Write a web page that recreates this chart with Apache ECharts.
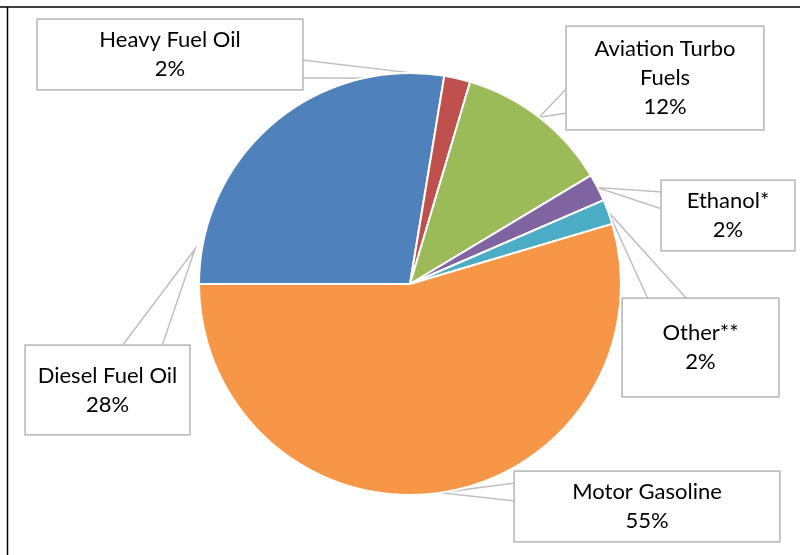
<!DOCTYPE html>
<html>
<head>
<meta charset="utf-8">
<script src="https://cdn.jsdelivr.net/npm/echarts@6/dist/echarts.min.js"></script>
<style>
html, body { margin: 0; padding: 0; background: #fff; }
#main { width: 800px; height: 555px; }
</style>
</head>
<body>
<div id="main"></div>
<script>
const categories = ['Diesel Fuel Oil', 'Heavy Fuel Oil', 'Aviation Turbo\nFuels', 'Ethanol*', 'Other**', 'Motor Gasoline'];
const shares = [27.6, 2.0, 11.8, 2.1, 1.9, 54.6];
const colors = ['#4F81BD', '#C0504D', '#9BBB59', '#8064A2', '#4BACC6', '#F79646'];

// callout boxes (left, top, width, height) and the two points where the pointer leaves the box
const boxes = [
    { x: 26, y: 346, w: 163, h: 88, base: [[122, 346], [162, 346]], tip: [195, 249] },
    { x: 38, y: 20, w: 264, h: 69, base: [[302, 60], [302, 78]] },
    { x: 567, y: 27, w: 196, h: 102, base: [[567, 88], [567, 113]] },
    { x: 662, y: 181, w: 132, h: 69, base: [[662, 192], [662, 209]] },
    { x: 623, y: 299, w: 155, h: 97, base: [[648, 299], [687, 299]] },
    { x: 515, y: 472, w: 264, h: 69, base: [[515, 483], [515, 501]] }
];

const lineH = 29;

const chart = echarts.init(document.getElementById('main'));

const data = categories.map((name, i) => {
    const b = boxes[i];
    const lines = name.split('\n').length + 1;
    const pad = (b.h - lines * lineH) / 2;
    return {
        name: name,
        value: shares[i],
        itemStyle: { color: colors[i] },
        label: { width: b.w, padding: [pad, 0, pad, 0] }
    };
});

const option = {
    animation: false,
    graphic: [
        { type: 'line', shape: { x1: 0, y1: 7, x2: 800, y2: 7 }, style: { stroke: '#000', lineWidth: 1.5 } },
        { type: 'line', shape: { x1: 7.5, y1: 7, x2: 7.5, y2: 555 }, style: { stroke: '#000', lineWidth: 1.5 } }
    ],
    series: [{
        type: 'pie',
        center: [410, 284],
        radius: 211,
        startAngle: 180,
        clockwise: true,
        avoidLabelOverlap: false,
        emphasis: { disabled: true },
        itemStyle: { borderColor: '#fff', borderWidth: 2 },
        label: {
            show: true,
            position: 'outside',
            formatter: p => p.name + '\n' + Math.round(p.percent) + '%',
            fontFamily: 'Lato',
            fontSize: 22,
            lineHeight: lineH,
            color: '#000',
            backgroundColor: '#fff',
            borderColor: '#BFBFBF',
            borderWidth: 1.75
        },
        labelLine: {
            show: true,
            length: 10,
            length2: 10,
            lineStyle: { color: '#BFBFBF', width: 1.5 }
        },
        labelLayout: function (params) {
            const b = boxes[params.dataIndex];
            const tip = b.tip || params.labelLinePoints[0];
            return {
                x: b.x + b.w / 2,
                y: b.y + b.h / 2,
                align: 'center',
                verticalAlign: 'middle',
                labelLinePoints: [b.base[0], tip, b.base[1]]
            };
        },
        data: data
    }]
};

chart.setOption(option);
</script>
</body>
</html>
